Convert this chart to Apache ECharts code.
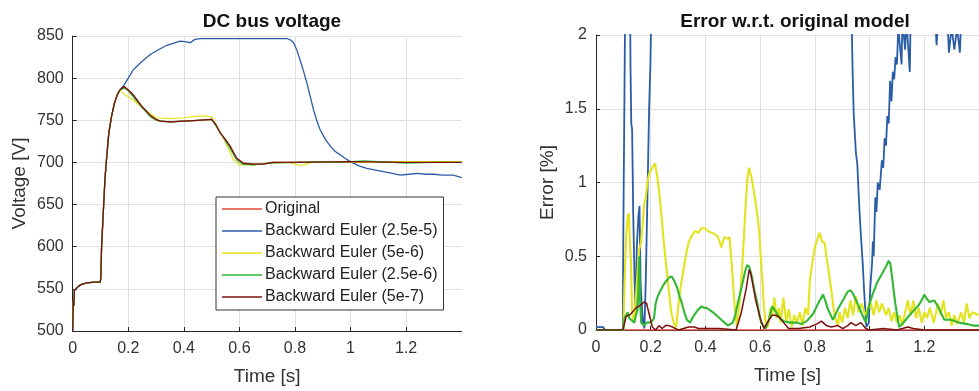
<!DOCTYPE html>
<html><head><meta charset="utf-8">
<script src="https://cdn.jsdelivr.net/npm/echarts@6/dist/echarts.min.js"></script>
<style>html,body{margin:0;padding:0;background:#fff}#c{width:979px;height:391px}</style>
</head><body><div id="c"></div>
<script>
// ---------- DATA ----------
const seriesNames = ["Original","Backward Euler (2.5e-5)","Backward Euler (5e-6)","Backward Euler (2.5e-6)","Backward Euler (5e-7)"];
const xTicks = [0,0.2,0.4,0.6,0.8,1,1.2];
const voltTicks = [500,550,600,650,700,750,800,850];
const errTicks = [0,0.5,1,1.5,2];

// DC bus voltage [t (s), V]
const voltRise = [[0,500],[0.002,535],[0.004,530],[0.006,548],[0.01,550],[0.02,553],[0.03,555],[0.05,557],[0.08,558],[0.099,558],[0.101,562],[0.104,600],[0.11,640],[0.116,680],[0.122,705],[0.13,735],[0.14,755],[0.15,770],[0.16,780],[0.17,786]];
const voltOriginal = [[0.185,790],[0.2,786],[0.218,780],[0.25,766],[0.279,756],[0.3,751],[0.315,749],[0.35,748],[0.4,749],[0.45,750],[0.5,751],[0.515,745],[0.531,735],[0.55,727],[0.567,719],[0.59,705],[0.614,699],[0.65,698],[0.686,698],[0.72,700],[0.8,700],[1.0,701],[1.2,700],[1.4,700]];
const voltBE25e5 = [[0.185,792],[0.2,800],[0.218,810],[0.25,820],[0.279,828],[0.31,834],[0.339,839],[0.387,844],[0.41,843],[0.423,842],[0.44,846],[0.459,847],[0.6,847],[0.771,847],[0.785,845],[0.795,842],[0.807,833],[0.819,821],[0.831,808],[0.843,794],[0.855,778],[0.867,762],[0.878,750],[0.89,739],[0.91,727],[0.928,719],[0.945,713],[0.963,709],[0.98,705],[0.999,701],[1.03,696],[1.059,693],[1.09,691],[1.119,689],[1.15,687],[1.179,685],[1.21,686],[1.24,687],[1.27,686],[1.3,686],[1.33,685],[1.37,685],[1.4,682]];
const voltBE5e6 = [[0.185,781],[0.2,778],[0.218,774],[0.25,765],[0.279,758],[0.3,753],[0.35,752],[0.4,753],[0.45,755],[0.48,755],[0.5,754],[0.52,742],[0.55,724],[0.579,703],[0.6,697],[0.65,697],[0.7,699],[0.78,700],[0.8,698],[0.82,696],[0.84,698],[0.86,700],[0.95,701],[1.0,700],[1.2,701],[1.4,701]];
const voltBE25e6 = [[0.185,788],[0.2,785],[0.25,765],[0.28,754],[0.3,750],[0.35,748],[0.4,749],[0.45,750],[0.5,751],[0.53,736],[0.56,720],[0.59,703],[0.61,698],[0.65,697],[0.7,699],[0.8,700],[0.9,701],[0.95,700],[1.0,701],[1.05,702],[1.1,701],[1.15,700],[1.2,699],[1.3,700],[1.4,700]];
const voltBE5e7 = [[0.185,790],[0.2,786],[0.218,780],[0.25,766],[0.279,756],[0.3,751],[0.315,749],[0.35,748],[0.4,749],[0.45,750],[0.5,751],[0.515,745],[0.531,735],[0.55,727],[0.567,719],[0.59,705],[0.614,699],[0.65,698],[0.686,698],[0.72,700],[0.8,700],[1.0,701],[1.2,700],[1.4,700]];

// Error w.r.t. original model [t (s), %]
const errOriginal = [[0,0],[1.4,0]];
const errBE25e5 = [[0,0.02],[0.026,0.02],[0.032,0],[0.098,0],[0.1,0.68],[0.105,1.83],[0.108,2.5],[0.124,2.5],[0.126,1.8],[0.129,1.4],[0.132,1.36],[0.136,0.79],[0.141,0.34],[0.145,0.11],[0.149,0.56],[0.155,0.77],[0.159,0.84],[0.163,0.32],[0.167,0.18],[0.172,0.05],[0.177,0.01],[0.182,0.34],[0.188,0.9],[0.194,1.49],[0.199,1.81],[0.203,2.3],[0.25,6],[0.4,12],[0.6,20],[0.8,19],[0.9,5],[0.935,2.05],[0.938,1.75],[0.942,1.47],[0.95,1.2],[0.955,1.13],[0.962,0.85],[0.967,0.68],[0.975,0.45],[0.98,0.27],[0.988,0.02],[0.997,0.05],[1.003,0.3],[1.009,0.45],[1.012,0.6],[1.015,0.5],[1.021,0.9],[1.025,0.8],[1.03,1.0],[1.037,0.95],[1.045,1.15],[1.05,1.1],[1.055,1.3],[1.06,1.25],[1.065,1.45],[1.07,1.4],[1.075,1.69],[1.08,1.55],[1.085,1.75],[1.09,1.7],[1.095,1.85],[1.1,1.8],[1.105,2.05],[1.117,1.8],[1.12,2.1],[1.13,1.9],[1.135,2.1],[1.147,1.75],[1.15,2.1],[1.24,2.1],[1.245,1.93],[1.25,2.1],[1.285,2.1],[1.29,1.88],[1.3,2.05],[1.31,1.9],[1.32,2.05],[1.33,1.88],[1.335,2.1],[1.4,2.1]];
const errBE5e6 = [[0,0],[0.1,0],[0.104,0.3],[0.11,0.63],[0.116,0.77],[0.12,0.79],[0.124,0.6],[0.128,0.45],[0.132,0.11],[0.14,0.05],[0.146,0.23],[0.152,0.4],[0.158,0.55],[0.164,0.59],[0.17,0.7],[0.176,0.85],[0.182,0.9],[0.188,1.0],[0.194,1.06],[0.2,1.08],[0.206,1.1],[0.212,1.09],[0.216,1.13],[0.22,1.08],[0.224,1.04],[0.23,0.95],[0.236,0.84],[0.242,0.72],[0.248,0.59],[0.256,0.45],[0.266,0.27],[0.275,0.12],[0.284,0.05],[0.293,0.02],[0.302,0.18],[0.31,0.3],[0.32,0.41],[0.33,0.52],[0.338,0.59],[0.35,0.64],[0.362,0.67],[0.375,0.66],[0.385,0.69],[0.398,0.69],[0.41,0.67],[0.422,0.66],[0.435,0.65],[0.446,0.63],[0.452,0.6],[0.458,0.56],[0.464,0.6],[0.47,0.63],[0.48,0.62],[0.488,0.63],[0.496,0.45],[0.506,0.18],[0.515,0.02],[0.527,0.23],[0.535,0.45],[0.542,0.68],[0.548,0.88],[0.554,1.04],[0.56,1.1],[0.564,1.06],[0.568,1.04],[0.576,0.95],[0.584,0.86],[0.59,0.77],[0.596,0.68],[0.602,0.5],[0.608,0.34],[0.614,0.15],[0.62,0.05],[0.628,0.02],[0.638,0.15],[0.645,0.1],[0.652,0.22],[0.66,0.08],[0.668,0.15],[0.675,0.05],[0.685,0.22],[0.695,0.06],[0.705,0.14],[0.715,0.02],[0.725,0.1],[0.735,0.05],[0.745,0.12],[0.755,0.03],[0.765,0.15],[0.775,0.1],[0.782,0.34],[0.79,0.45],[0.8,0.56],[0.81,0.62],[0.818,0.66],[0.826,0.6],[0.836,0.59],[0.842,0.5],[0.848,0.43],[0.854,0.35],[0.86,0.27],[0.866,0.18],[0.872,0.1],[0.884,0.03],[0.89,0.12],[0.9,0.05],[0.91,0.15],[0.92,0.08],[0.93,0.2],[0.94,0.1],[0.95,0.23],[0.96,0.12],[0.97,0.18],[0.985,0.1],[0.995,0.15],[1.005,0.18],[1.015,0.1],[1.025,0.2],[1.035,0.12],[1.045,0.18],[1.06,0.1],[1.07,0.15],[1.08,0.06],[1.09,0.12],[1.1,0.05],[1.11,0.1],[1.12,0.03],[1.13,0.12],[1.14,0.2],[1.15,0.1],[1.16,0.2],[1.17,0.08],[1.18,0.15],[1.19,0.05],[1.2,0.12],[1.21,0.08],[1.22,0.15],[1.235,0.05],[1.25,0.18],[1.26,0.1],[1.27,0.2],[1.28,0.08],[1.29,0.12],[1.3,0.03],[1.31,0.1],[1.32,0.04],[1.335,0.12],[1.345,0.05],[1.355,0.18],[1.365,0.08],[1.375,0.12],[1.4,0.1]];
const errBE25e6 = [[0,0],[0.1,0],[0.104,0.08],[0.11,0.1],[0.116,0.12],[0.122,0.08],[0.128,0.07],[0.14,0.05],[0.146,0.1],[0.152,0.14],[0.156,0.35],[0.158,0.5],[0.161,0.2],[0.165,0.05],[0.175,0.03],[0.185,0.05],[0.194,0.05],[0.205,0.06],[0.212,0.08],[0.218,0.18],[0.226,0.23],[0.236,0.27],[0.248,0.31],[0.26,0.34],[0.27,0.36],[0.278,0.36],[0.287,0.33],[0.296,0.29],[0.305,0.23],[0.314,0.18],[0.323,0.12],[0.332,0.07],[0.344,0.05],[0.352,0.08],[0.362,0.11],[0.374,0.14],[0.386,0.16],[0.395,0.15],[0.404,0.15],[0.42,0.13],[0.434,0.11],[0.446,0.09],[0.458,0.07],[0.47,0.05],[0.482,0.03],[0.5,0.05],[0.509,0.1],[0.518,0.18],[0.527,0.25],[0.536,0.32],[0.544,0.39],[0.552,0.44],[0.56,0.43],[0.566,0.39],[0.572,0.34],[0.58,0.26],[0.59,0.18],[0.597,0.1],[0.604,0.05],[0.62,0.01],[0.632,0.07],[0.644,0.16],[0.652,0.14],[0.662,0.11],[0.672,0.08],[0.686,0.06],[0.71,0.05],[0.734,0.05],[0.75,0.04],[0.77,0.06],[0.794,0.11],[0.812,0.18],[0.83,0.24],[0.838,0.2],[0.848,0.14],[0.866,0.07],[0.884,0.14],[0.902,0.2],[0.92,0.26],[0.93,0.27],[0.938,0.25],[0.956,0.18],[0.974,0.1],[0.986,0.05],[0.997,0.16],[1.009,0.23],[1.027,0.32],[1.045,0.38],[1.06,0.43],[1.07,0.47],[1.076,0.45],[1.082,0.36],[1.088,0.27],[1.094,0.18],[1.1,0.11],[1.108,0.02],[1.124,0.05],[1.141,0.09],[1.165,0.14],[1.18,0.17],[1.19,0.2],[1.2,0.24],[1.21,0.21],[1.219,0.19],[1.237,0.2],[1.255,0.14],[1.273,0.07],[1.297,0.07],[1.327,0.05],[1.357,0.04],[1.378,0.03],[1.4,0.03]];
const errBE5e7 = [[0,0],[0.098,0],[0.11,0.09],[0.128,0.11],[0.146,0.15],[0.164,0.17],[0.176,0.19],[0.185,0.18],[0.194,0.11],[0.206,0.02],[0.218,0],[0.23,0.03],[0.242,0.01],[0.254,0.03],[0.266,0.03],[0.28,0.02],[0.302,0],[0.338,0.02],[0.36,0.02],[0.374,0.01],[0.4,0.01],[0.45,0.01],[0.512,0],[0.53,0.11],[0.548,0.27],[0.56,0.41],[0.566,0.38],[0.572,0.32],[0.584,0.2],[0.602,0.07],[0.614,0.01],[0.626,0.05],[0.644,0.1],[0.656,0.1],[0.668,0.09],[0.686,0.05],[0.704,0.01],[0.74,0.01],[0.782,0.02],[0.806,0.04],[0.824,0.06],[0.842,0.03],[0.86,0.02],[0.884,0.03],[0.902,0.01],[0.92,0.03],[0.932,0.05],[0.95,0.03],[0.968,0.05],[0.986,0.01],[1.0,0],[1.05,0.01],[1.1,0],[1.14,0.02],[1.16,0.01],[1.2,0],[1.4,0]];

// ---------- STYLE ----------
const colors = ["#dd4b39","#2b5ca6","#e3e31e","#33b833","#7a1010"];
const FONT = "Liberation Sans, Arial, sans-serif";
const txt = "#333";

const voltData = [voltRise.concat(voltOriginal), voltRise.concat(voltBE25e5), voltRise.concat(voltBE5e6), voltRise.concat(voltBE25e6), voltRise.concat(voltBE5e7)];
const errData = [errOriginal, errBE25e5, errBE5e6, errBE25e6, errBE5e7];
const leftWidths = [1.2,1.3,1.2,1.2,1.3];
const rightWidths = [1.3,1.8,2.1,2.1,1.5];

function fmt(v){ return String(+(+v).toFixed(2)); }
function xAxis(gi){
  return {type:'value', gridIndex:gi, min:xTicks[0], max:1.4, interval:0.2,
    name:'Time [s]', nameLocation:'middle', nameGap:36,
    nameTextStyle:{fontFamily:FONT, fontSize:19, color:txt},
    axisLine:{show:true, onZero:false, lineStyle:{color:'#262626', width:1}},
    axisTick:{show:true, inside:true, length:4, lineStyle:{color:'#262626'}},
    axisLabel:{fontFamily:FONT, fontSize:16, color:txt, margin:10, showMaxLabel:false, formatter:fmt},
    splitLine:{show:true, showMaxLine:false, lineStyle:{color:'#e0e0e0', width:1}}};
}
function yAxis(gi, ticks, name, gap){
  return {type:'value', gridIndex:gi, min:ticks[0], max:ticks[ticks.length-1], interval:ticks[1]-ticks[0],
    name:name, nameLocation:'middle', nameGap:gap,
    nameTextStyle:{fontFamily:FONT, fontSize:19, color:txt},
    axisLine:{show:true, onZero:false, lineStyle:{color:'#262626', width:1}},
    axisTick:{show:true, inside:true, length:4, lineStyle:{color:'#262626'}},
    axisLabel:{fontFamily:FONT, fontSize:16, color:txt, margin:9, formatter:fmt},
    splitLine:{show:true, lineStyle:{color:'#e0e0e0', width:1}}};
}

const series = [];
seriesNames.forEach((n,i)=>{
  series.push({name:n, type:'line', xAxisIndex:0, yAxisIndex:0, data:voltData[i], symbol:'none', showSymbol:false,
    lineStyle:{color:colors[i], width:leftWidths[i]}, itemStyle:{color:colors[i]}, clip:true, silent:true});
});
seriesNames.forEach((n,i)=>{
  series.push({name:n, type:'line', xAxisIndex:1, yAxisIndex:1, data:errData[i], symbol:'none', showSymbol:false,
    lineStyle:{color:colors[i], width:rightWidths[i]}, itemStyle:{color:colors[i]}, clip:true, silent:true});
});

const chart = echarts.init(document.getElementById('c'), null, {renderer:'canvas'});
chart.setOption({
  animation:false,
  backgroundColor:'#fff',
  title:[
    {text:'DC bus voltage', left:267, top:7, textAlign:'center', textStyle:{fontFamily:FONT, fontSize:19, fontWeight:'bold', color:'#111'}},
    {text:'Error w.r.t. original model', left:790, top:7, textAlign:'center', textStyle:{fontFamily:FONT, fontSize:19, fontWeight:'bold', color:'#111'}}
  ],
  grid:[
    {left:72.7, right:979-461.7, top:36, bottom:60, containLabel:false},
    {left:596, right:-6, top:35, bottom:61, containLabel:false}
  ],
  xAxis:[xAxis(0), xAxis(1)],
  yAxis:[yAxis(0, voltTicks, 'Voltage [V]', 43), yAxis(1, errTicks, 'Error [%]', 39)],
  legend:{data:seriesNames, orient:'vertical', left:216, top:197, icon:'rect', itemWidth:40, itemHeight:1.5, itemGap:4,
    padding:[3,6,4,6], backgroundColor:'#fff', borderColor:'#333', borderWidth:1, selectedMode:false,
    textStyle:{fontFamily:FONT, fontSize:16, color:'#222', lineHeight:18, padding:[0,0,0,-2]}},
  series:series
});
</script></body></html>
